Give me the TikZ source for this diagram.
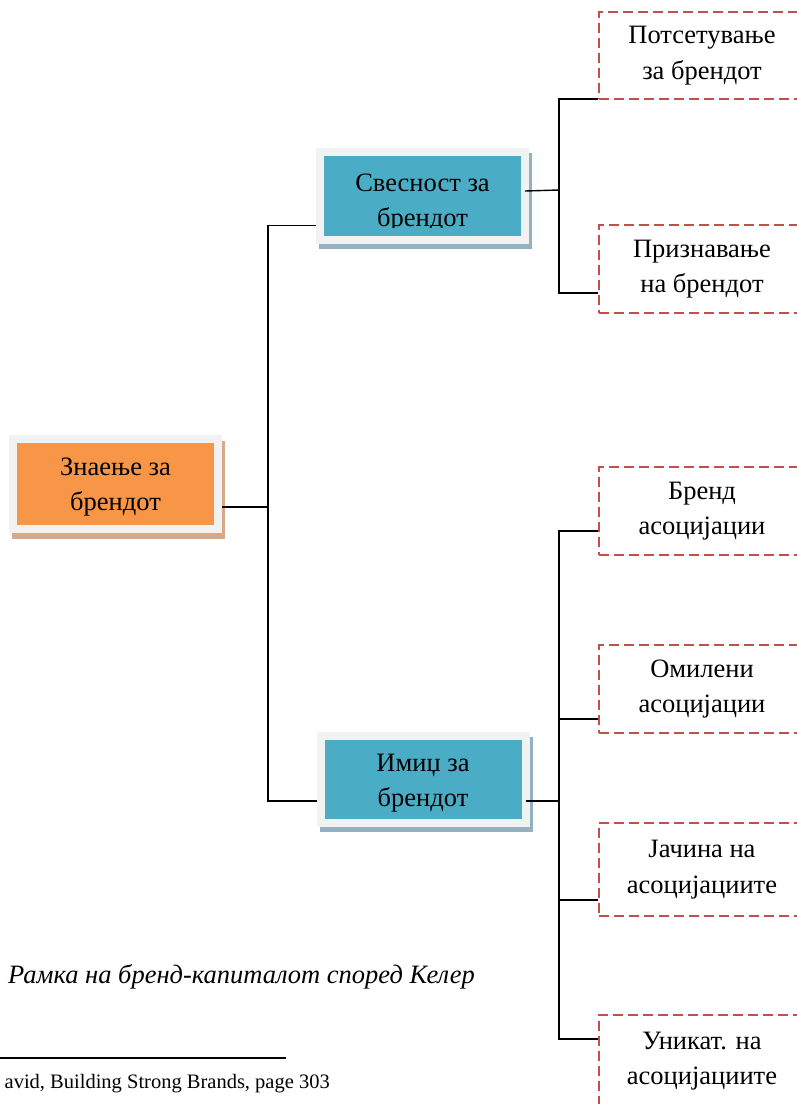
\documentclass[tikz,border=0pt]{standalone}
\usepackage{fontspec}
\setmainfont{Liberation Serif}
\usetikzlibrary{backgrounds}
\definecolor{orangeF}{HTML}{F79646}
\definecolor{tealF}{HTML}{4BACC6}
\definecolor{frameG}{HTML}{F2F2F2}
\definecolor{orShadow}{HTML}{D6A98A}
\definecolor{tlShadow}{HTML}{93B1C0}
\definecolor{dashRed}{HTML}{C0504D}
\tikzset{
  mainfont/.style={font=\fontsize{26.5}{35.5}\selectfont},
  framebox/.style={draw=frameG, line width=8pt, minimum width=205pt, inner sep=0pt},
  rootbox/.style={framebox, fill=orangeF, minimum height=90pt},
  midbox/.style={framebox, fill=tealF, minimum height=88pt},
  leafbox/.style={draw=dashRed, line width=2pt, dash pattern=on 10pt off 5pt, minimum width=206pt, minimum height=87pt, align=center, mainfont, inner sep=0pt},
  txt/.style={align=center, mainfont, inner sep=0pt},
  conn/.style={line width=1.4pt, black}
}
\begin{document}
\begin{tikzpicture}[x=1pt,y=-1pt]
\useasboundingbox (0,0) rectangle (797,1104);
\begin{scope}
\clip (0,0) rectangle (797,1104);
% main boxes
\node[rootbox] (root) at (115.5,484) {};
\node[midbox] (sv) at (422.5,195.5) {};
\node[midbox, minimum height=87pt] (im) at (423,779.5) {};
\begin{pgfonlayer}{background}
\fill[orShadow] ([shift={(3,6)}]root.south west) rectangle ([shift={(3,6)}]root.north east);
\fill[tlShadow] ([shift={(3,5)}]sv.south west) rectangle ([shift={(3,5)}]sv.north east);
\fill[tlShadow] ([shift={(3,5)}]im.south west) rectangle ([shift={(3,5)}]im.north east);
\end{pgfonlayer}
\node[txt] (rootT) at (115.5,487) {Знаење за\\брендот};
\begin{scope}
\clip (324,155) rectangle (522,227);
\node[txt] (svT) at (422.5,203) {Свесност за\\брендот};
\end{scope}
\node[txt] (imT) at (423,783) {Имиџ за\\брендот};
% leaf boxes
\node[leafbox] (pot) at (702,55.5) {Потсетување\\за брендот};
\node[leafbox, minimum height=88pt] (pr) at (702,269) {Признавање\\на брендот};
\node[leafbox, minimum height=88pt] (br) at (702,511) {Бренд\\асоцијации};
\node[leafbox, minimum height=88pt] (om) at (702,689) {Омилени\\асоцијации};
\node[leafbox, minimum height=93pt] (ja) at (702,869.5) {Јачина на\\асоцијациите};
\node[leafbox, minimum height=92pt] (un) at (702,1061) {Уникат. на\\асоцијациите};
% connectors
\coordinate (j1) at (268,507);
\coordinate (j2) at (559,190);
\coordinate (j3) at (559,801);
\draw[conn] ([yshift=-23pt]root.east) -- (j1);
\draw[conn] ([yshift=-30pt]sv.west) -| (j1) |- ([yshift=-21.5pt]im.west);
\draw[conn] ([shift={(-4,-4.5)}]sv.east) -- (j2);
\draw[conn] ([yshift=1pt]pot.south west) -| (j2) |- ([yshift=-24pt]pr.west);
\draw[conn] ([shift={(-4,21.5)}]im.east) -- (j3);
\draw[conn] ([yshift=-20pt]br.west) -| (j3) |- ([yshift=22pt]un.west);
\draw[conn] ([yshift=-30pt]om.west) -- ([yshift=-30pt]om.west -| j3);
\draw[conn] ([yshift=-30.5pt]ja.west) -- ([yshift=-30.5pt]ja.west -| j3);
% caption and footnote
\node[anchor=west, inner sep=0pt, font=\fontsize{26.5}{30}\selectfont\itshape] (cap) at (8,977) {Рамка на бренд-капиталот според Келер};
\coordinate (fnA) at (0,1058);
\coordinate (fnB) at (286,1058);
\draw[line width=1.6pt] (fnA) -- (fnB);
\node[anchor=east, inner sep=0pt, font=\fontsize{20.5}{24}\selectfont] (fn) at (330,1084) {avid, Building Strong Brands, page 303};
\end{scope}
\end{tikzpicture}
\end{document}
